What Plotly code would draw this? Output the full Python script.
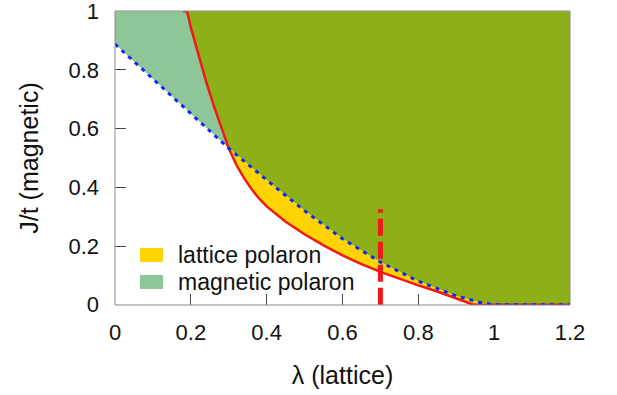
import numpy as np
import plotly.graph_objects as go

# Phase boundaries
red_lam = [0.18, 0.19, 0.20, 0.22, 0.24, 0.26, 0.28, 0.30, 0.32, 0.34, 0.36, 0.38, 0.40,
           0.45, 0.50, 0.55, 0.60, 0.65, 0.70, 0.75, 0.80, 0.85, 0.90, 0.945, 1.0, 1.2]
red_J = [1.0, 1.0, 0.945, 0.85, 0.762, 0.68, 0.603, 0.533, 0.477, 0.432, 0.394, 0.362, 0.335,
         0.283, 0.24, 0.202, 0.168, 0.138, 0.112, 0.088, 0.066, 0.045, 0.022, 0.0, 0.0, 0.0]
blue_lam = [0.0, 0.1, 0.2, 0.30, 0.4, 0.5, 0.6, 0.7, 0.8, 0.9, 0.97, 1.0, 1.2]
blue_J = [0.888, 0.77, 0.652, 0.533, 0.425, 0.32, 0.225, 0.145, 0.08, 0.03, 0.005, 0.0, 0.0]
cross_lam = 0.30          # where the two boundaries meet
marker_lam = 0.70         # vertical dashed marker
marker_top = 0.325
x_ticks = [0, 0.2, 0.4, 0.6, 0.8, 1.0, 1.2]
x_ticktext = ["0", "0.2", "0.4", "0.6", "0.8", "1", "1.2"]
y_ticks = [0, 0.2, 0.4, 0.6, 0.8, 1.0]
y_ticktext = ["0", "0.2", "0.4", "0.6", "0.8", "1"]
legend_names = ["lattice polaron", "magnetic polaron"]

rl = np.array(red_lam); rj = np.array(red_J)
bl = np.array(blue_lam); bj = np.array(blue_J)
end_lam = 1.0

YELLOW = "rgb(255,212,0)"
LGREEN = "rgb(143,198,152)"
OLIVE = "rgb(141,176,24)"
RED = "rgb(240,24,24)"
BLUE = "rgb(20,40,240)"

fig = go.Figure()

# olive: above both boundaries
r_up = rl <= cross_lam
b_dn = (bl >= cross_lam) & (bl <= end_lam)
ox = list(rl[r_up]) + list(bl[b_dn]) + [1.2, 1.2, rl[0]]
oy = list(rj[r_up]) + list(bj[b_dn]) + [0.0, 1.0, 1.0]
fig.add_trace(go.Scatter(x=ox, y=oy, fill="toself", fillcolor=OLIVE, mode="lines",
                         line=dict(width=0), showlegend=False, hoverinfo="skip"))

# yellow: lattice polaron only
r_lo = (rl >= cross_lam) & (rl <= end_lam)
yx = list(rl[r_lo]) + list(bl[b_dn][::-1])
yy = list(rj[r_lo]) + list(bj[b_dn][::-1])
fig.add_trace(go.Scatter(x=yx, y=yy, fill="toself", fillcolor=YELLOW, mode="lines",
                         line=dict(width=0), name=legend_names[0], showlegend=False,
                         hoverinfo="skip"))

# light green: magnetic polaron only
b_up = bl <= cross_lam
gx = list(bl[b_up]) + list(rl[r_up][::-1]) + [0.0]
gy = list(bj[b_up]) + list(rj[r_up][::-1]) + [1.0]
fig.add_trace(go.Scatter(x=gx, y=gy, fill="toself", fillcolor=LGREEN, mode="lines",
                         line=dict(width=0), name=legend_names[1], showlegend=False,
                         hoverinfo="skip"))

fig.add_trace(go.Scatter(x=red_lam, y=red_J, mode="lines", line=dict(color=RED, width=2.5),
                         showlegend=False, hoverinfo="skip"))
fig.add_trace(go.Scatter(x=blue_lam, y=blue_J, mode="lines",
                         line=dict(color=BLUE, width=3, dash="4px,5px"),
                         showlegend=False, hoverinfo="skip"))
fig.add_trace(go.Scatter(x=[marker_lam, marker_lam], y=[0, marker_top], mode="lines",
                         line=dict(color=RED, width=5, dash="17px,6px"),
                         showlegend=False, hoverinfo="skip"))

FAM = "Liberation Sans, Arial, sans-serif"

# legend box (paper coordinates of the plot area)
W, H = 455.0, 294.0
def px(x): return (x - 115) / W
def py(y): return (305 - y) / H
shapes = [dict(type="rect", xref="paper", yref="paper", x0=0, x1=1, y0=0, y1=1,
               line=dict(color="#888888", width=1), layer="above")]
annotations = []
for i, (nm, col) in enumerate(zip(legend_names, [YELLOW, LGREEN])):
    cy = 255 + 27 * i
    shapes.append(dict(type="rect", xref="paper", yref="paper", x0=px(140), x1=px(163),
                       y0=py(cy + 7), y1=py(cy - 7), fillcolor=col, line=dict(width=0),
                       layer="above"))
    annotations.append(dict(xref="paper", yref="paper", x=px(176), y=py(cy), text=nm,
                            showarrow=False, xanchor="left", yanchor="middle",
                            font=dict(family=FAM, size=23, color="#111111")))

fig.update_layout(
    width=617, height=395,
    margin=dict(l=115, r=47, t=11, b=90, autoexpand=False),
    paper_bgcolor="white", plot_bgcolor="white",
    font=dict(family=FAM, size=21, color="#111111"),
    showlegend=False,
    xaxis=dict(range=[0, 1.2], tickvals=x_ticks, ticktext=x_ticktext, ticks="inside",
               ticklen=11, tickcolor="#444", showgrid=False, zeroline=False, showline=False,
               layer="below traces", ticklabelstandoff=12, tickfont=dict(size=22),
               automargin=False, ticklabeloverflow="allow",
               title=dict(text="λ (lattice)", standoff=22)),
    yaxis=dict(range=[-0.001, 1.001], tickvals=y_ticks, ticktext=y_ticktext, ticks="inside",
               ticklen=11, tickcolor="#444", showgrid=False, zeroline=False, showline=False,
               layer="below traces", ticklabelstandoff=15, tickfont=dict(size=22),
               automargin=False, ticklabeloverflow="allow",
               title=dict(text="J/t (magnetic)", standoff=22)),
    shapes=shapes,
    annotations=annotations,
)
fig.write_html("out.html")
